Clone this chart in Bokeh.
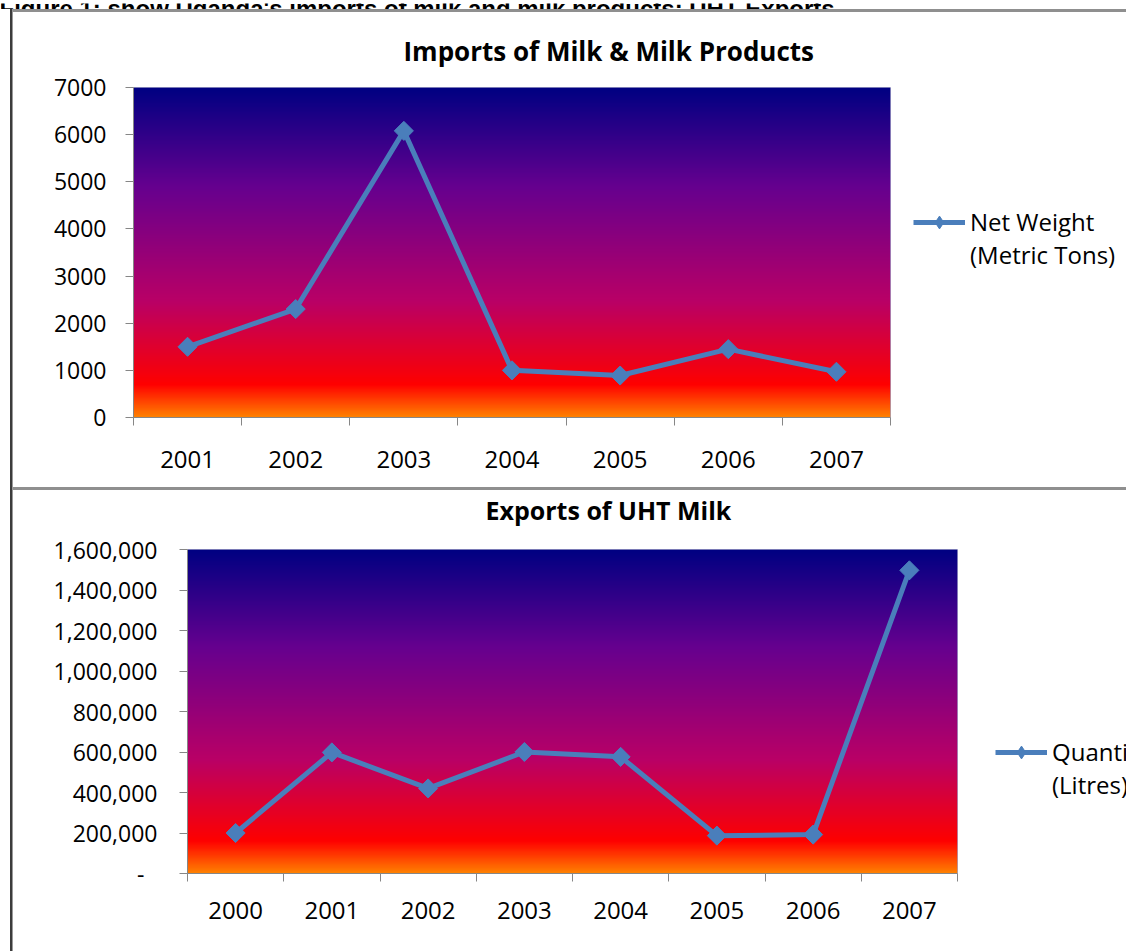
import numpy as np
from bokeh.plotting import figure
from bokeh.layouts import column, row
from bokeh.models import (Range1d, FixedTicker, NumeralTickFormatter, Legend, LegendItem,
                          Label, Spacer)
from bokeh.embed import file_html
from bokeh.resources import INLINE

# ---------------- data ----------------
HEADER = "Figure 1; show Uganda's imports of milk and milk products: UHT Exports"

import_title = "Imports of Milk & Milk Products"
import_years = [2001, 2002, 2003, 2004, 2005, 2006, 2007]
import_net_weight = [1500, 2300, 6080, 1000, 890, 1450, 970]
import_yticks = [0, 1000, 2000, 3000, 4000, 5000, 6000, 7000]
import_legend = ["Net Weight", "(Metric Tons)"]

export_title = "Exports of UHT Milk"
export_years = [2000, 2001, 2002, 2003, 2004, 2005, 2006, 2007]
export_quantity = [200000, 598000, 420000, 600000, 576000, 187000, 192000, 1497000]
export_yticks = [0, 200000, 400000, 600000, 800000, 1000000, 1200000, 1400000, 1600000]
export_legend = ["Quantity", "(Litres)"]

# ---------------- style ----------------
BLUE = "#4a7ebb"
AXIS = "#868686"
FONT = "Open Sans"
INNER_W = 1113
OVERLAP = 30   # bottom chart canvas is pulled up under the separator (transparent border)
# Excel "Early Sunset" preset gradient (position from top, rgb)
STOPS = [(0.0, (0, 0, 130)), (0.30, (102, 0, 143)), (0.65, (186, 0, 102)),
         (0.90, (255, 0, 0)), (1.0, (255, 130, 0))]


def gradient(n=600, w=4):
    pos = np.linspace(1.0, 0.0, n)          # row 0 is drawn at the bottom
    sp = [s[0] for s in STOPS]
    img = np.zeros((n, w), dtype=np.uint32)
    view = img.view(dtype=np.uint8).reshape((n, w, 4))
    for c in range(3):
        ch = np.interp(pos, sp, [s[1][c] for s in STOPS])
        view[:, :, c] = ch[:, None].astype(np.uint8)
    view[:, :, 3] = 255
    return img


def chart(years, values, yticks, title, legend_labels, fw, fh, bl, br, bt, bb,
          title_offset, title_standoff, title_size, ylab_size, ylab_standoff,
          xlab_size, xlab_standoff, legend_loc, fmt=None, transparent=False, styles=None):
    xr = Range1d(years[0] - 0.5, years[-1] + 0.5)
    yr = Range1d(yticks[0], yticks[-1])
    p = figure(frame_width=fw, frame_height=fh, x_range=xr, y_range=yr,
               min_border_left=bl, min_border_right=br, min_border_top=bt, min_border_bottom=bb,
               output_backend="svg", toolbar_location=None, border_fill_color="white",
               border_fill_alpha=(0 if transparent else 1),
               outline_line_color="#a4a4c8", outline_line_width=1, frame_align=False,
               styles=(styles or {}))
    p.image_rgba(image=[gradient()], x=xr.start, y=yr.start,
                 dw=xr.end - xr.start, dh=yr.end - yr.start)
    rl = p.line(years, values, line_color=BLUE, line_width=5)
    # legend key marker (hidden under the plotted markers)
    r_key = p.scatter(years, values, marker="diamond", size=10,
                      fill_color=BLUE, line_color=BLUE)
    p.scatter(years, values, marker="square", angle=np.pi / 4, size=13.5,
              fill_color=BLUE, line_color=BLUE)
    r_none = p.line(x=[], y=[], line_alpha=0)

    p.grid.visible = False

    p.title.text = title
    p.title.align = "left"
    p.title.offset = title_offset
    p.title.standoff = title_standoff
    p.title.text_font = FONT
    p.title.text_font_style = "bold"
    p.title.text_font_size = title_size
    p.title.text_color = "black"

    edges = [y - 0.5 for y in years] + [years[-1] + 0.5]
    xa = p.xaxis[0]
    xa.ticker = FixedTicker(ticks=years, minor_ticks=edges)
    xa.major_tick_line_color = None
    xa.major_tick_out = 0
    xa.major_tick_in = 0
    xa.minor_tick_out = 8
    xa.minor_tick_in = 0
    xa.minor_tick_line_color = AXIS
    xa.axis_line_color = AXIS
    xa.major_label_text_font = FONT
    xa.major_label_text_font_size = xlab_size
    xa.major_label_text_color = "black"
    xa.major_label_standoff = xlab_standoff

    ya = p.yaxis[0]
    ya.ticker = FixedTicker(ticks=yticks, minor_ticks=[])
    ya.major_tick_out = 8
    ya.major_tick_in = 0
    ya.major_tick_line_color = AXIS
    ya.axis_line_color = AXIS
    ya.minor_tick_line_color = None
    ya.major_label_text_font = FONT
    ya.major_label_text_font_size = ylab_size
    ya.major_label_text_color = "black"
    ya.major_label_standoff = ylab_standoff
    if fmt is not None:
        ya.formatter = fmt
        ya.major_label_overrides = {0: "-\u2007"}

    # series key (right of the plot area), label wrapped onto two lines
    key = Legend(items=[LegendItem(label=legend_labels[0], renderers=[rl, r_key]),
                        LegendItem(label=legend_labels[1], renderers=[r_none])],
                 location=legend_loc, glyph_width=52, glyph_height=32,
                 label_text_font=FONT, label_text_font_size="24px", label_text_color="black",
                 label_standoff=5, padding=0, margin=0, spacing=0,
                 border_line_color=None, background_fill_alpha=0)
    p.add_layout(key, "right")
    return p


# page x = canvas x + 13 ; top chart page y = canvas y + 12
top = chart(import_years, import_net_weight, import_yticks, import_title, import_legend,
            fw=757, fh=330, bl=120, br=236, bt=75, bb=70,
            title_offset=270, title_standoff=37, title_size="26px",
            ylab_size="23px", ylab_standoff=19, xlab_size="24px", xlab_standoff=25,
            legend_loc=(23, 146))

# bottom chart page y = canvas y + 490 - OVERLAP
bottom = chart(export_years, export_quantity, export_yticks, export_title, export_legend,
               fw=770, fh=324, bl=174, br=169, bt=59 + OVERLAP, bb=78,
               title_offset=298, title_standoff=46, title_size="25px",
               ylab_size="23px", ylab_standoff=22, xlab_size="24px", xlab_standoff=20,
               legend_loc=(38, 72), fmt=NumeralTickFormatter(format="0,0"),
               transparent=True, styles={"margin-top": "-%dpx" % OVERLAP})

header = figure(width=1126, height=9, x_range=Range1d(0, 1), y_range=Range1d(0, 1),
                output_backend="svg", toolbar_location=None, min_border=0,
                x_axis_location=None, y_axis_location=None, outline_line_color=None,
                border_fill_color="white", frame_align=False)
header.grid.visible = False
header.add_layout(Label(x=-1, y=5, x_units="canvas", y_units="canvas", text=HEADER,
                        text_font="Liberation Sans", text_font_style="bold",
                        text_font_size="24px", text_baseline="alphabetic",
                        text_color="black"))


def bar(w, h, color):
    return Spacer(width=w, height=h, styles={"background-color": color})


body = column(
    bar(INNER_W, 3, "#8f8f8f"),
    top,
    bar(INNER_W, 3, "#8f8f8f"),
    bottom,
)
page = column(
    header,
    row(Spacer(width=10, height=942), bar(2, 942, "#3c3c3c"), bar(1, 942, "#9a9a9a"), body),
)
open("out.html", "w").write(file_html(page, INLINE))
